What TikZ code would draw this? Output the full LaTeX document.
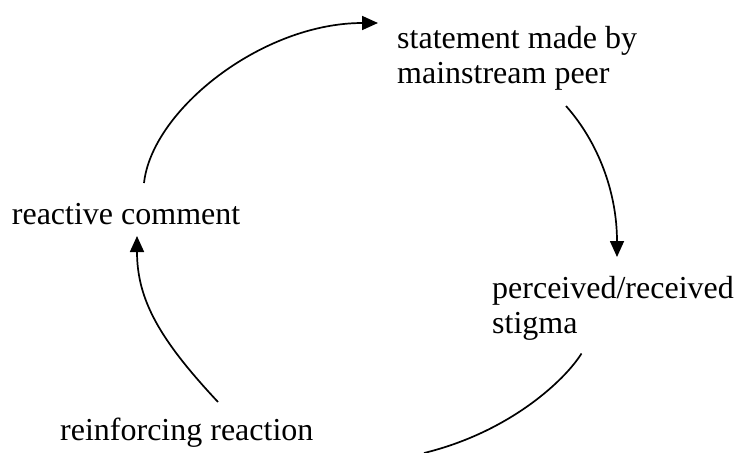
\documentclass[tikz,border=0pt]{standalone}
\usepackage{fontspec}
\setmainfont{Liberation Serif}
\usetikzlibrary{arrows.meta}
\begin{document}
\begin{tikzpicture}[x=1pt,y=-1pt,
  lbl/.style={anchor=base west,inner sep=0pt,align=left,font=\fontsize{32}{35.3}\selectfont},
  conn/.style={line width=1.7pt},
  arr/.style={conn,-{Triangle[length=16pt,width=14pt]}}]
\useasboundingbox (0,0) rectangle (735,452);
\node[lbl] (smp) at (397,83.3) {statement made by\\mainstream peer};
\node[lbl] (prs) at (492,333.3) {perceived/received\\stigma};
\node[lbl] (rr) at (60,440) {reinforcing reaction};
\node[lbl] (rc) at (11.7,224.3) {reactive comment};
\coordinate (rcTop) at (144,183);
\coordinate (smpIn) at (378,23);
\coordinate (smpOut) at (566,106);
\coordinate (prsIn) at (617,257);
\coordinate (prsOut) at (581.5,353.5);
\coordinate (rrIn) at (424,453);
\coordinate (rrOut) at (218,402);
\coordinate (rcIn) at (137,236);
\draw[arr] (rcTop) .. controls (152,110) and (262,23) .. (smpIn);
\draw[arr] (smpOut) .. controls (598,142) and (617,192) .. (prsIn);
\draw[conn] (prsOut) .. controls (565,380) and (510,432) .. (rrIn);
\draw[arr] (rrOut) .. controls (160,340) and (137,300) .. (rcIn);
\end{tikzpicture}
\end{document}
